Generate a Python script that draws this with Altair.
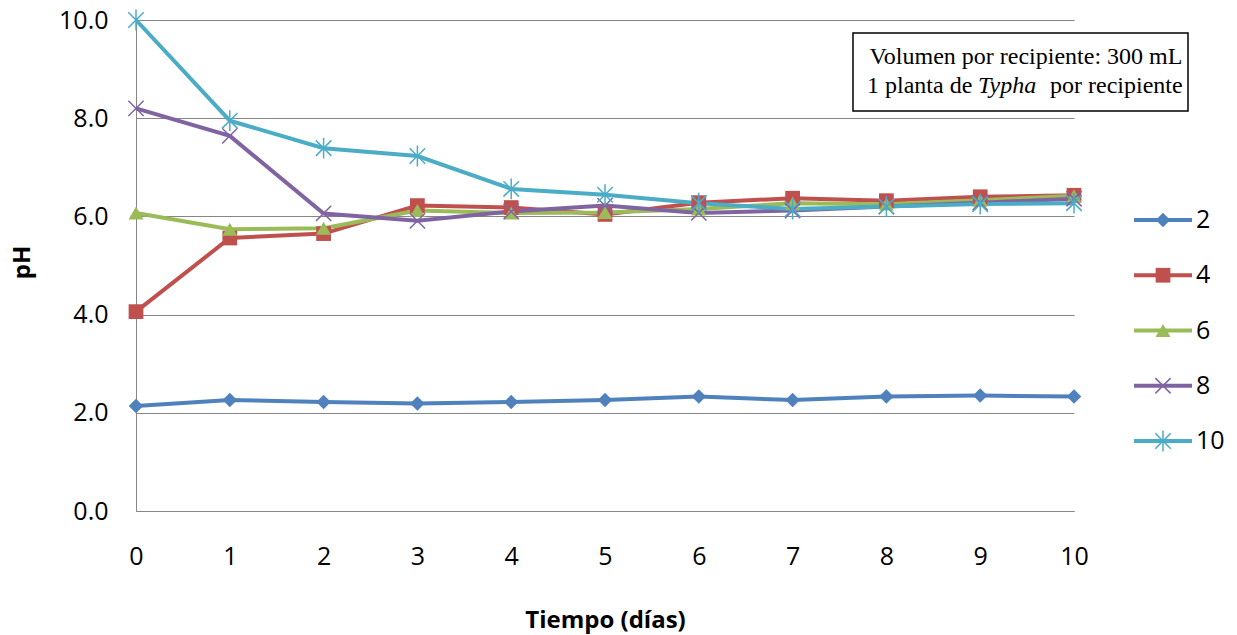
import altair as alt
import pandas as pd

# pH readings per container, by initial pH group
dias = list(range(11))
ph_2 = [2.14, 2.26, 2.22, 2.19, 2.22, 2.26, 2.33, 2.26, 2.33, 2.35, 2.33]
ph_4 = [4.06, 5.56, 5.65, 6.22, 6.18, 6.04, 6.28, 6.37, 6.32, 6.40, 6.43]
ph_6 = [6.07, 5.74, 5.76, 6.12, 6.07, 6.08, 6.15, 6.27, 6.25, 6.33, 6.42]
ph_8 = [8.20, 7.64, 6.06, 5.91, 6.10, 6.22, 6.07, 6.12, 6.20, 6.28, 6.36]
ph_10 = [10.0, 7.95, 7.39, 7.23, 6.56, 6.44, 6.27, 6.15, 6.20, 6.25, 6.27]

series = ["2", "4", "6", "8", "10"]
values = [ph_2, ph_4, ph_6, ph_8, ph_10]
y_ticks = [0, 2, 4, 6, 8, 10]

colors = ["#4F81BD", "#C0504D", "#9BBB59", "#8064A2", "#4BACC6"]
X_PATH = "M-1,-1L1,1M-1,1L1,-1"
AST_PATH = "M-1,-1L1,1M-1,1L1,-1M0,-1.35L0,1.35"
shapes = ["diamond", "square", "triangle-up", X_PATH, AST_PATH]
sizes = [210, 240, 270, 240, 260]

rows = []
for s, vals in zip(series, values):
    for d, v in zip(dias, vals):
        rows.append({"serie": s, "dia": d, "ph": v})
df = pd.DataFrame(rows)

FONT = "Open Sans"
SERIF = "Liberation Serif"

color_scale = alt.Scale(domain=series, range=colors)
shape_scale = alt.Scale(domain=series, range=shapes)
size_scale = alt.Scale(domain=series, range=sizes)

filled_set = ["2", "4", "6"]
stroked_set = ["8", "10"]

base = alt.Chart(df).encode(
    x=alt.X(
        "dia:Q",
        scale=alt.Scale(domain=[0, 10], nice=False),
        axis=alt.Axis(
            values=dias, title="Tiempo (días)", grid=False, ticks=False,
            labelFlush=False, labelPadding=33, titleY=109, titleBaseline="middle",
        ),
    ),
    y=alt.Y(
        "ph:Q",
        scale=alt.Scale(domain=[0, 10], nice=False),
        axis=alt.Axis(
            values=y_ticks, format=".1f", title="pH", grid=True, ticks=False,
            labelFlush=False, labelPadding=28, titleX=-114, titleY=242,
            titleBaseline="middle",
        ),
    ),
    color=alt.Color("serie:N", scale=color_scale, legend=None),
)

lines = base.mark_line(strokeWidth=4)
pts_filled = base.transform_filter(
    alt.FieldOneOfPredicate(field="serie", oneOf=filled_set)
).mark_point(filled=True, opacity=1).encode(
    shape=alt.Shape("serie:N", scale=shape_scale, legend=None),
    size=alt.Size("serie:O", scale=size_scale, legend=None),
)
pts_stroked = base.transform_filter(
    alt.FieldOneOfPredicate(field="serie", oneOf=stroked_set)
).mark_point(filled=False, opacity=1, strokeWidth=1.5).encode(
    shape=alt.Shape("serie:N", scale=shape_scale, legend=None),
    size=alt.Size("serie:O", scale=size_scale, legend=None),
)

main = alt.layer(lines, pts_filled, pts_stroked)

# legend built from the series list
leg_df = pd.DataFrame({"serie": series})
leg_y = alt.Y(
    "serie:N",
    scale=alt.Scale(type="point", domain=series, range=[200, 421], padding=0),
    axis=None,
)
leg_color = alt.Color("serie:N", scale=color_scale, legend=None)
leg_base = alt.Chart(leg_df).encode(y=leg_y, color=leg_color)
leg_rule = leg_base.mark_rule(strokeWidth=4).encode(
    x=alt.value(998), x2=alt.value(1056)
)
leg_pf = leg_base.transform_filter(
    alt.FieldOneOfPredicate(field="serie", oneOf=filled_set)
).mark_point(filled=True, opacity=1).encode(
    x=alt.value(1027),
    shape=alt.Shape("serie:N", scale=shape_scale, legend=None),
    size=alt.Size("serie:O", scale=size_scale, legend=None),
)
leg_ps = leg_base.transform_filter(
    alt.FieldOneOfPredicate(field="serie", oneOf=stroked_set)
).mark_point(filled=False, opacity=1, strokeWidth=1.5).encode(
    x=alt.value(1027),
    shape=alt.Shape("serie:N", scale=shape_scale, legend=None),
    size=alt.Size("serie:O", scale=size_scale, legend=None),
)
leg_text = alt.Chart(leg_df).mark_text(
    align="left", baseline="middle", font=FONT, fontSize=25, color="#000000"
).encode(x=alt.value(1060), y=leg_y, text="serie:N")

# annotation box
one = pd.DataFrame({"k": [0]})
box = alt.Chart(one).mark_rect(
    fill="#FFFFFF", stroke="#000000", strokeWidth=1.5
).encode(x=alt.value(717), x2=alt.value(1052), y=alt.value(13), y2=alt.value(91))

line1 = alt.Chart(one).mark_text(
    font=SERIF, fontSize=24, align="center", baseline="middle", color="#000000"
).encode(x=alt.value(890), y=alt.value(37), text=alt.value("Volumen por recipiente: 300 mL"))
line2a = alt.Chart(one).mark_text(
    font=SERIF, fontSize=24, align="left", baseline="middle", color="#000000"
).encode(x=alt.value(731), y=alt.value(66), text=alt.value("1 planta de"))
line2b = alt.Chart(one).mark_text(
    font=SERIF, fontSize=24, fontStyle="italic", align="left", baseline="middle", color="#000000"
).encode(x=alt.value(842), y=alt.value(66), text=alt.value("Typha"))
line2c = alt.Chart(one).mark_text(
    font=SERIF, fontSize=24, align="left", baseline="middle", color="#000000"
).encode(x=alt.value(914), y=alt.value(66), text=alt.value("por recipiente"))

extras = alt.layer(leg_rule, leg_pf, leg_ps, leg_text, box, line1, line2a, line2b, line2c)

chart = alt.layer(main, extras).resolve_scale(y="independent").properties(
    width=938,
    height=491,
    autosize=alt.AutoSizeParams(type="none"),
    padding={"left": 136, "top": 20, "right": 163, "bottom": 124},
).configure_view(stroke=None).configure_axis(
    labelFont=FONT,
    labelFontSize=25,
    labelColor="#000000",
    titleFont=FONT,
    titleFontSize=24,
    titleFontWeight="bold",
    titleColor="#000000",
    domainColor="#868686",
    domainWidth=1,
    gridColor="#868686",
    gridWidth=1,
)

chart.save("out.html", embed_options={"renderer": "svg", "actions": False})
